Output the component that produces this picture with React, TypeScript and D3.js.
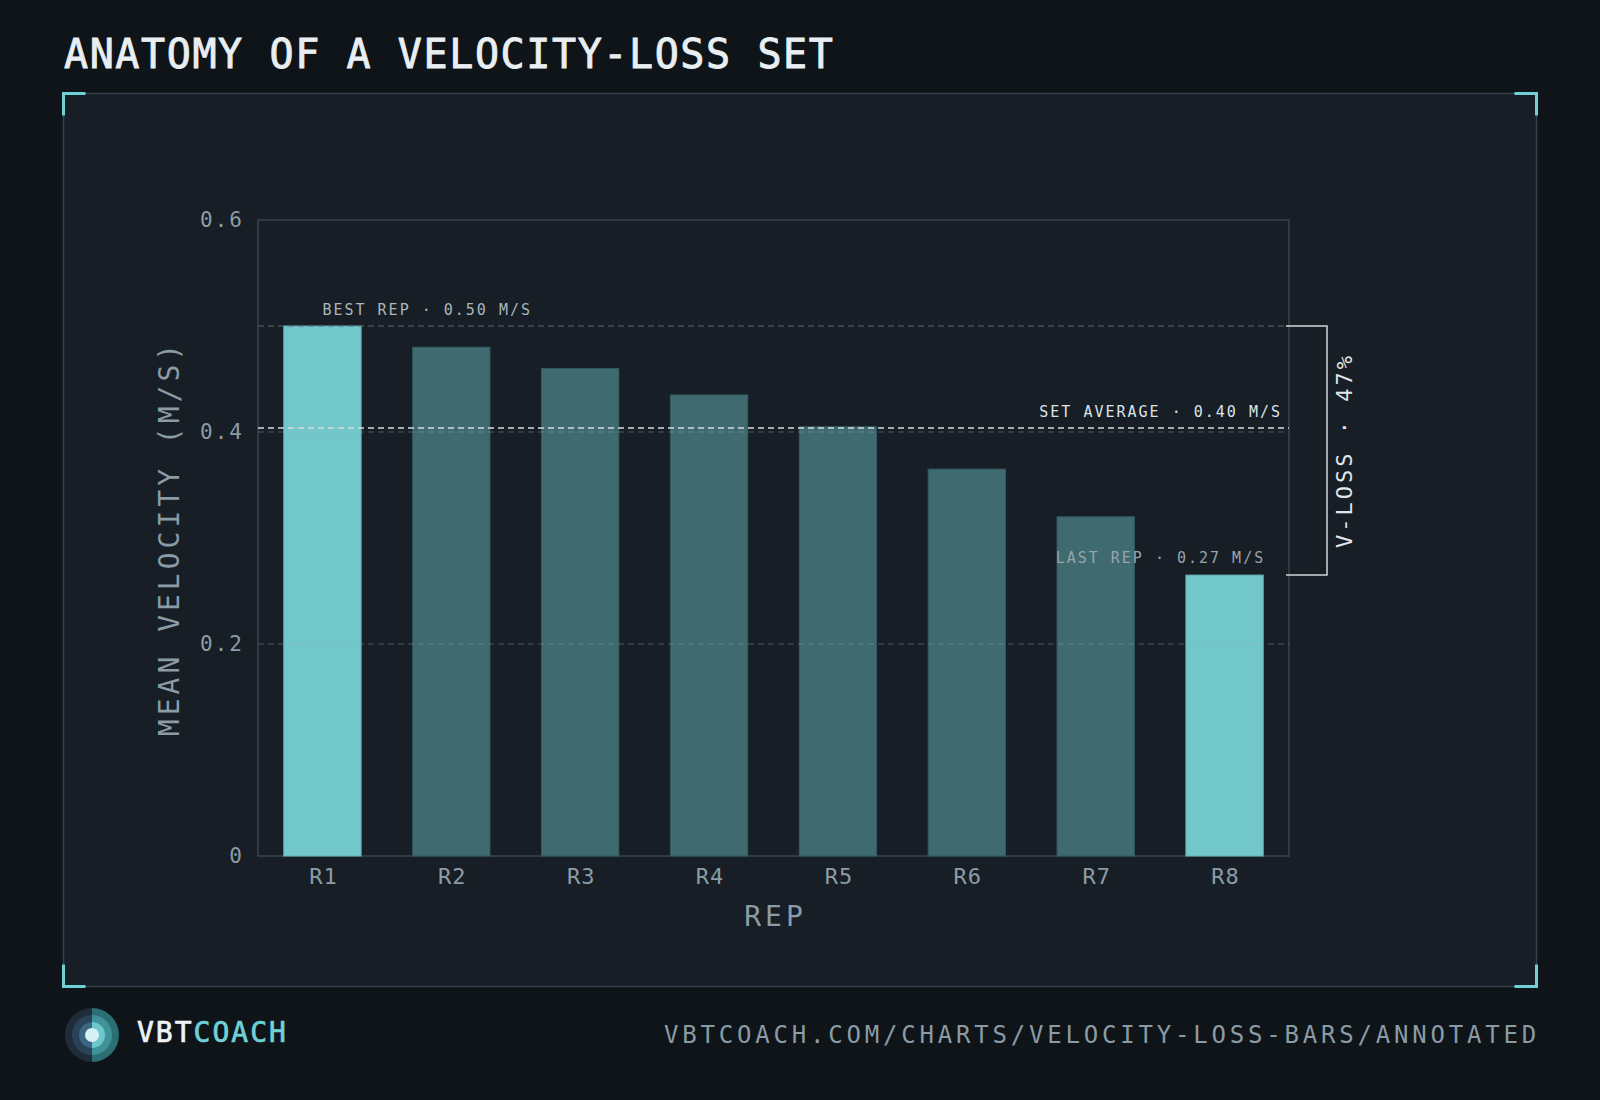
import React from "react";
import { scaleBand, scaleLinear, mean } from "d3";

// rep-by-rep mean concentric velocity for one set
const reps = ["R1", "R2", "R3", "R4", "R5", "R6", "R7", "R8"];
const velocities = [0.5, 0.48, 0.46, 0.435, 0.405, 0.365, 0.32, 0.265];
const yTicks = [0, 0.2, 0.4, 0.6];

const W = 1600;
const H = 1100;
const MONO = "'DejaVu Sans Mono', 'Liberation Mono', monospace";

// plot box
const left = 258;
const right = 1289;
const top = 220;
const bottom = 856;

const BG = "#0e1418";
const PANEL = "#171e25";
const FRAME = "#34434b";
const CYAN = "#6fd0d6";
const BAR_HI = "#72c7cb";
const BAR_LO = "#3e6a70";
const MUTED = "#8c9ca5";

function Corner({ x, y, dx, dy }: { x: number; y: number; dx: number; dy: number }) {
  const len = 22;
  return (
    <path
      d={`M${x + dx * len},${y} L${x},${y} L${x},${y + dy * len}`}
      fill="none"
      stroke={CYAN}
      strokeWidth={3}
    />
  );
}

function Logo({ cx, cy }: { cx: number; cy: number }) {
  // half-and-half concentric target mark
  const rings = [
    { r: 27, l: "#1f2d3a", rr: "#2b6e74" },
    { r: 20, l: "#2a4258", rr: "#3f9298" },
    { r: 13, l: "#3b6580", rr: "#6cc8cd" },
  ];
  const half = (r: number, side: number) =>
    `M${cx},${cy - r} A${r},${r} 0 0 ${side > 0 ? 1 : 0} ${cx},${cy + r} Z`;
  return (
    <g>
      {rings.map((g) => (
        <g key={g.r}>
          <path d={half(g.r, -1)} fill={g.l} />
          <path d={half(g.r, 1)} fill={g.rr} />
        </g>
      ))}
      <circle cx={cx} cy={cy} r={7} fill="#d4f1f3" />
    </g>
  );
}

export default function App() {
  const x = scaleBand<string>()
    .domain(reps)
    .range([left, right])
    .paddingInner(0.4)
    .paddingOuter(0.2);
  const y = scaleLinear().domain([0, 0.6]).range([bottom, top]);

  const best = velocities[0];
  const last = velocities[velocities.length - 1];
  const avg = mean(velocities) as number;
  const loss = Math.round(((best - last) / best) * 100);

  const firstRep = reps[0];
  const lastRep = reps[reps.length - 1];
  const bw = x.bandwidth();

  const bracketX = 1327;

  return (
    <svg
      width={W}
      height={H}
      style={{ position: "absolute", left: 0, top: 0, display: "block" }}
      fontFamily={MONO}
    >
      <rect width={W} height={H} fill={BG} />

      <text
        x={64}
        y={68}
        fill="#e8eef1"
        stroke="#e8eef1"
        strokeWidth={0.9}
        fontSize={40}
        letterSpacing={1.6}
      >
        ANATOMY OF A VELOCITY-LOSS SET
      </text>

      {/* panel + corner brackets */}
      <rect x={63.5} y={93.5} width={1473} height={893} fill={PANEL} stroke={FRAME} strokeWidth={1.5} />
      <Corner x={63.5} y={93.5} dx={1} dy={1} />
      <Corner x={1536.5} y={93.5} dx={-1} dy={1} />
      <Corner x={63.5} y={986.5} dx={1} dy={-1} />
      <Corner x={1536.5} y={986.5} dx={-1} dy={-1} />

      {/* plot frame */}
      <rect x={left} y={top} width={right - left} height={bottom - top} fill="none" stroke="#37454c" strokeWidth={1.5} />

      {/* bars */}
      {reps.map((r, i) => {
        const hi = i === 0 || i === reps.length - 1;
        const v = velocities[i];
        return (
          <rect
            key={r}
            x={x(r)}
            y={y(v)}
            width={bw}
            height={y(0) - y(v)}
            fill={hi ? BAR_HI : BAR_LO}
            stroke={hi ? "#66b3b7" : "#325a60"}
            strokeWidth={1}
          />
        );
      })}

      {/* gridlines, drawn over bars */}
      {yTicks
        .filter((t) => t > 0 && t < 0.6)
        .map((t) => (
          <line
            key={t}
            x1={left}
            x2={right}
            y1={y(t)}
            y2={y(t)}
            stroke="#8fa6b0"
            strokeOpacity={0.42}
            strokeWidth={1.2}
            strokeDasharray="6 4"
          />
        ))}

      {/* best-rep reference */}
      <line x1={left} x2={right} y1={y(best)} y2={y(best)} stroke="#5a6970" strokeWidth={1.2} strokeDasharray="6 4" />
      <text
        x={(x(firstRep) as number) + bw / 2}
        y={y(best) - 11}
        fill="#a9b6bc"
        fontSize={15}
        letterSpacing={2}
      >
        {`BEST REP · ${best.toFixed(2)} M/S`}
      </text>

      {/* set average */}
      <line x1={left} x2={right} y1={y(avg)} y2={y(avg)} stroke="#d5dde1" strokeWidth={1.5} strokeDasharray="6 4" />
      <text x={1282} y={y(avg) - 11} fill="#dbe3e8" fontSize={15} letterSpacing={2} textAnchor="end">
        {`SET AVERAGE · ${avg.toFixed(2)} M/S`}
      </text>

      {/* last rep */}
      <text
        x={(x(lastRep) as number) + bw + 2}
        y={y(last) - 12}
        fill="#97a5ac"
        fontSize={15}
        letterSpacing={2}
        textAnchor="end"
      >
        {`LAST REP · ${last.toFixed(2)} M/S`}
      </text>

      {/* velocity-loss bracket */}
      <path
        d={`M${right - 3},${y(best)} H${bracketX} V${y(last)} H${right - 3}`}
        fill="none"
        stroke="#d0d8dc"
        strokeWidth={1.5}
      />
      <text
        transform={`translate(1352, ${(y(best) + y(last)) / 2}) rotate(-90)`}
        fill="#e0e6ea"
        fontSize={22}
        letterSpacing={3}
        textAnchor="middle"
      >
        {`V-LOSS · ${loss}%`}
      </text>

      {/* y axis */}
      {yTicks.map((t) => (
        <text key={t} x={244} y={y(t)} dy="0.34em" fill={MUTED} fontSize={21} letterSpacing={2} textAnchor="end">
          {t === 0 ? "0" : t.toFixed(1)}
        </text>
      ))}
      <text
        transform={`translate(179, ${(top + bottom) / 2}) rotate(-90)`}
        fill={MUTED}
        fontSize={28}
        letterSpacing={4}
        textAnchor="middle"
      >
        MEAN VELOCITY (M/S)
      </text>

      {/* x axis */}
      {reps.map((r) => (
        <text key={r} x={(x(r) as number) + bw / 2 + 1} y={884} fill={MUTED} fontSize={22} letterSpacing={1} textAnchor="middle">
          {r}
        </text>
      ))}
      <text x={(left + right) / 2 + 2} y={926} fill={MUTED} fontSize={28} letterSpacing={4} textAnchor="middle">
        REP
      </text>

      {/* footer */}
      <Logo cx={92} cy={1035} />
      <text x={137} y={1042} fontSize={28} letterSpacing={2} strokeWidth={0.7}>
        <tspan fill="#eef3f5" stroke="#eef3f5">VBT</tspan>
        <tspan fill={CYAN} stroke={CYAN}>COACH</tspan>
      </text>
      <text x={1540} y={1043} fill="#8a9ba5" fontSize={24} letterSpacing={3.8} textAnchor="end">
        VBTCOACH.COM/CHARTS/VELOCITY-LOSS-BARS/ANNOTATED
      </text>
    </svg>
  );
}
